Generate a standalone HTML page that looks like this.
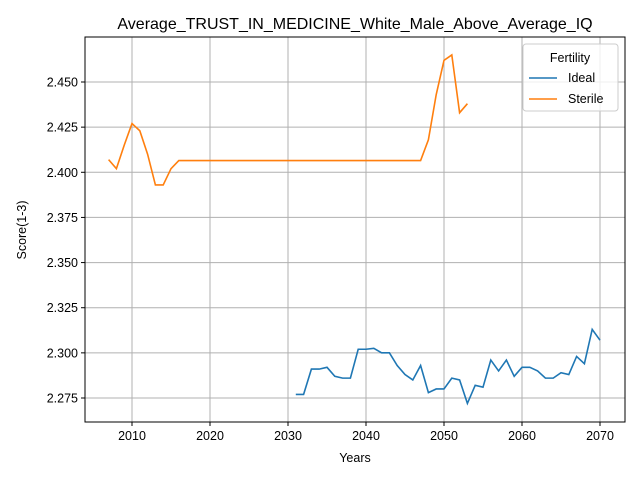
<!DOCTYPE html>
<html><head><meta charset="utf-8"><style>
body{margin:0;background:#fff;font-family:"Liberation Sans","DejaVu Sans",sans-serif}
</style></head><body>
<svg id="c" width="640" height="480" xmlns="http://www.w3.org/2000/svg"></svg>
<script>
const idealYears=[];for(let y=2031;y<=2070;y++)idealYears.push(y);
const idealValues=[2.277,2.277,2.291,2.291,2.292,2.287,2.286,2.286,2.302,2.302,2.3025,2.300,2.300,2.293,2.288,2.285,2.293,2.278,2.280,2.280,2.286,2.285,2.272,2.282,2.281,2.296,2.290,2.296,2.287,2.292,2.292,2.290,2.286,2.286,2.289,2.288,2.298,2.294,2.313,2.307];
const sterileYears=[];for(let y=2007;y<=2053;y++)sterileYears.push(y);
const sterileValues=[2.407,2.402,2.415,2.427,2.423,2.410,2.393,2.393,2.402,2.4065,2.4065,2.4065,2.4065,2.4065,2.4065,2.4065,2.4065,2.4065,2.4065,2.4065,2.4065,2.4065,2.4065,2.4065,2.4065,2.4065,2.4065,2.4065,2.4065,2.4065,2.4065,2.4065,2.4065,2.4065,2.4065,2.4065,2.4065,2.4065,2.4065,2.4065,2.4065,2.418,2.443,2.462,2.465,2.433,2.438];
const xTicks=[2010,2020,2030,2040,2050,2060,2070];
const yTicks=[2.275,2.300,2.325,2.350,2.375,2.400,2.425,2.450];
const L=85,R=625,T=37,B=422;
const x=v=>132+(v-2010)*7.8;
const y=v=>398-(v-2.275)*1805.7;
const svg=document.getElementById('c');const NS='http://www.w3.org/2000/svg';
function mk(t,a,p){const e=document.createElementNS(NS,t);for(const k in a)e.setAttribute(k,a[k]);(p||svg).appendChild(e);return e;}
xTicks.forEach(t=>{const X=x(t);
const g=mk('line',{x1:X,x2:X,y1:T,y2:B,stroke:'#b0b0b0','stroke-width':1});

mk('line',{x1:X,x2:X,y1:B,y2:B+4,stroke:'#000'});
const l=mk('text',{x:X,y:B+18,'text-anchor':'middle','font-size':12.5});l.textContent=t;
});
yTicks.forEach(t=>{const Y=y(t);
const g=mk('line',{x1:L,x2:R,y1:Y,y2:Y,stroke:'#b0b0b0','stroke-width':1});

mk('line',{x1:L-4,x2:L,y1:Y,y2:Y,stroke:'#000'});
const l=mk('text',{x:L-7,y:Y+4.5,'text-anchor':'end','font-size':12.5});l.textContent=t.toFixed(3);
});
function line(xs,vs,c,n){const p=mk('polyline',{points:xs.map((v,i)=>x(v)+','+y(vs[i])).join(' '),fill:'none',stroke:c,'stroke-width':1.6});
}
line(idealYears,idealValues,'#1f77b4','ideal-line');
line(sterileYears,sterileValues,'#ff7f0e','sterile-line');
const fr=mk('rect',{x:L,y:T,width:R-L,height:B-T,fill:'none',stroke:'#000','stroke-width':1});

const ti=mk('text',{x:355,y:29,'text-anchor':'middle','font-size':16});ti.textContent='Average_TRUST_IN_MEDICINE_White_Male_Above_Average_IQ';

const xl=mk('text',{x:355,y:462,'text-anchor':'middle','font-size':12.5});xl.textContent='Years';

const yl=mk('text',{x:26,y:230,'text-anchor':'middle','font-size':12.5,transform:'rotate(-90 26 230)'});yl.textContent='Score(1-3)';

const lg=mk('g',{});
mk('rect',{x:523,y:44,width:95,height:67,rx:3,fill:'#fff','fill-opacity':0.8,stroke:'#ccc'},lg);
const lt=mk('text',{x:570,y:62,'text-anchor':'middle','font-size':12.5},lg);lt.textContent='Fertility';

[['Ideal','#1f77b4',82],['Sterile','#ff7f0e',103]].forEach(([n,c,Y])=>{
const g=mk('g',{},lg);
mk('line',{x1:529,x2:557,y1:Y-4,y2:Y-4,stroke:c,'stroke-width':1.6},g);
const t=mk('text',{x:568,y:Y,'font-size':12.5},g);t.textContent=n;});
</script>
</body></html>
